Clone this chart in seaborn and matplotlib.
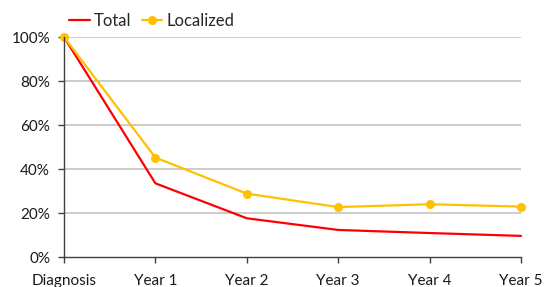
import matplotlib
matplotlib.use("Agg")
import matplotlib.pyplot as plt
import pandas as pd
import seaborn as sns

# -------------------------------
# Data
# -------------------------------
categories = ["Diagnosis", "Year 1", "Year 2", "Year 3", "Year 4", "Year 5"]
total = [100, 33.5, 17.6, 12.3, 10.9, 9.6]
localized = [100, 45.2, 28.8, 22.7, 24.0, 22.9]
y_ticks = [0, 20, 40, 60, 80, 100]

sns.set_style("white")
plt.rcParams["font.family"] = ["Lato", "DejaVu Sans"]

df = pd.DataFrame({"step": range(len(categories)), "Total": total, "Localized": localized})

fig = plt.figure(figsize=(5.59, 2.87), dpi=100)
ax = fig.add_axes([0.1145, 0.1045, 0.8175, 0.7665])

sns.lineplot(data=df, x="step", y="Total", ax=ax, color="#FF0000", linewidth=1.6,
             label="Total", clip_on=False)
sns.lineplot(data=df, x="step", y="Localized", ax=ax, color="#FFC000", linewidth=1.6,
             marker="o", markersize=6.5, markeredgewidth=0, label="Localized", clip_on=False)

ax.set_xlim(0, len(categories) - 1)
ax.set_ylim(0, 100)
ax.set_xticks(range(len(categories)))
ax.set_xticklabels(categories)
ax.set_yticks(y_ticks)
ax.set_yticklabels([f"{v}%" for v in y_ticks])
ax.set_xlabel("")
ax.set_ylabel("")

for v in y_ticks[1:]:
    ax.axhline(v, color="#C4C4C4", linewidth=1.2, zorder=0)

for side in ["top", "right"]:
    ax.spines[side].set_visible(False)
for side in ["left", "bottom"]:
    ax.spines[side].set_color("#404040")
    ax.spines[side].set_linewidth(1.0)

ax.tick_params(axis="both", which="both", direction="out", length=4, width=1.0,
               color="#404040", labelsize=11, labelcolor="#1a1a1a")
ax.tick_params(axis="x", pad=8)
ax.tick_params(axis="y", pad=6)
ax.xaxis.set_ticks_position("bottom")
ax.yaxis.set_ticks_position("left")

ax.legend(loc="center left", bbox_to_anchor=(0.011, 1.073), ncol=2, frameon=False,
          fontsize=12, handlelength=1.25, handletextpad=0.25, columnspacing=0.6,
          borderaxespad=0, borderpad=0)

fig.savefig("out.png", dpi=100)
